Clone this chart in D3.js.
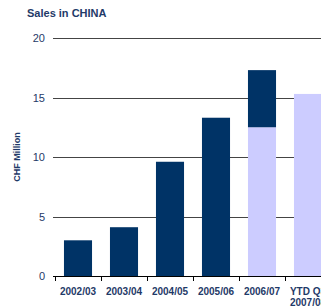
<!DOCTYPE html>
<html>
<head>
<meta charset="utf-8">
<script src="https://cdn.jsdelivr.net/npm/d3@7"></script>
<style>
  body { margin: 0; background: #fff; }
  svg { display: block; font-family: "Liberation Sans", Arial, sans-serif; }
</style>
</head>
<body>
<div id="chart"></div>
<script>
// Sales in China, CHF million
const categories = ['2002/03', '2003/04', '2004/05', '2005/06', '2006/07', 'YTD Q3 2007/08'];
const comparable = [0, 0, 0, 0, 12.5, 15.3];   // light part
const remainder = [3.0, 4.1, 9.6, 13.3, 4.8, 0]; // dark part
const yTicks = [0, 5, 10, 15, 20];

const width = 321, height = 307;
const margin = { top: 38, right: 0, bottom: 31, left: 55 };
const navy = '#003366';
const lilac = '#ccccff';
const textColor = '#1f3a68';

const rows = categories.map((c, i) => ({ cat: c, light: comparable[i], dark: remainder[i] }));
const series = d3.stack().keys(['light', 'dark'])(rows);

const svg = d3.select('#chart').append('svg')
    .attr('width', width)
    .attr('height', height);

const x = d3.scaleBand()
    .domain(categories)
    .range([margin.left, margin.left + 46 * categories.length])
    .paddingInner(0.39)
    .paddingOuter(0.195);

const y = d3.scaleLinear()
    .domain([0, 20])
    .range([height - margin.bottom, margin.top]);

// Title
svg.append('text')
    .attr('x', 27)
    .attr('y', 17)
    .attr('fill', textColor)
    .attr('font-size', 11)
    .attr('font-weight', 'bold')
    .text('Sales in CHINA');

// Gridlines
svg.append('g')
    .selectAll('line')
    .data(yTicks.filter(d => d > 0))
    .join('line')
    .attr('x1', margin.left - 2)
    .attr('x2', width)
    .attr('y1', d => Math.round(y(d)) + 0.5)
    .attr('y2', d => Math.round(y(d)) + 0.5)
    .attr('stroke', '#444')
    .attr('stroke-width', 1);

// Y tick labels
svg.append('g')
    .selectAll('text')
    .data(yTicks)
    .join('text')
    .attr('x', 45)
    .attr('y', d => y(d) + 4)
    .attr('text-anchor', 'end')
    .attr('fill', textColor)
    .attr('font-size', 11)
    .text(d => d);

// Y axis title
svg.append('text')
    .attr('transform', `translate(20,${y(10)}) rotate(-90)`)
    .attr('text-anchor', 'middle')
    .attr('fill', textColor)
    .attr('font-size', 9)
    .attr('font-weight', 'bold')
    .text('CHF Million');

// Bars
svg.append('g')
    .selectAll('g')
    .data(series)
    .join('g')
    .attr('fill', d => d.key === 'light' ? lilac : navy)
    .selectAll('rect')
    .data(d => d)
    .join('rect')
    .attr('x', d => x(d.data.cat))
    .attr('y', d => y(d[1]))
    .attr('width', x.bandwidth())
    .attr('height', d => y(d[0]) - y(d[1]));

// X axis
const x0 = y(0);
svg.append('line')
    .attr('x1', margin.left - 2)
    .attr('x2', width)
    .attr('y1', Math.round(x0) + 0.5)
    .attr('y2', Math.round(x0) + 0.5)
    .attr('stroke', '#000');

const step = x.step();
svg.append('g')
    .selectAll('line')
    .data(d3.range(categories.length + 1))
    .join('line')
    .attr('x1', i => Math.round(margin.left + i * step) + 0.5)
    .attr('x2', i => Math.round(margin.left + i * step) + 0.5)
    .attr('y1', Math.round(x0))
    .attr('y2', Math.round(x0) + 5)
    .attr('stroke', '#000');

// X labels (wrap last one)
const labels = svg.append('g')
    .selectAll('text')
    .data(categories)
    .join('text')
    .attr('text-anchor', 'middle')
    .attr('fill', textColor)
    .attr('font-size', 10)
    .attr('font-weight', 'bold');

labels.each(function (d) {
    const cx = x(d) + x.bandwidth() / 2;
    const parts = d.startsWith('YTD') ? ['YTD Q3', '2007/08'] : [d];
    d3.select(this).selectAll('tspan')
        .data(parts)
        .join('tspan')
        .attr('x', cx)
        .attr('y', (p, i) => 295 + i * 11)
        .text(p => p);
});
</script>
</body>
</html>
